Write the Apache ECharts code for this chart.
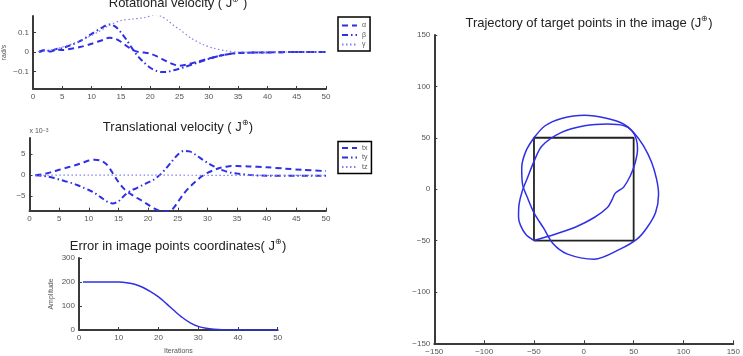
<!DOCTYPE html>
<html>
<head>
<meta charset="utf-8">
<script src="https://cdn.jsdelivr.net/npm/echarts@6/dist/echarts.min.js"></script>
<style>
  html, body { margin: 0; padding: 0; background: #fff; }
  #main { width: 743px; height: 356px; }
</style>
</head>
<body>
<div id="main"></div>
<script>
// rotational velocity (rad/s) — [iteration, value]
const rotAlpha = [[1,0],[2,0.008],[3,0.002],[4,0.012],[5,0.01],[6,0.014],[8,0.025],[10,0.042],[12,0.062],[13,0.073],[14,0.068],[15,0.052],[16,0.03],[17,0.01],[18,0],[19,-0.003],[20,-0.008],[21,-0.02],[22,-0.035],[23,-0.05],[24,-0.063],[25,-0.07],[26,-0.065],[28,-0.05],[30,-0.033],[32,-0.018],[34,-0.008],[36,-0.004],[40,-0.002],[45,0],[50,0]]
const rotBeta = [[1,0],[2,0.01],[3,0.005],[4,0.015],[5,0.02],[6,0.03],[8,0.055],[10,0.092],[12,0.128],[13,0.14],[14,0.13],[15,0.1],[16,0.06],[17,0.015],[18,-0.025],[19,-0.055],[20,-0.08],[21,-0.095],[22,-0.102],[23,-0.1],[24,-0.093],[25,-0.085],[26,-0.075],[28,-0.055],[30,-0.035],[32,-0.018],[34,-0.008],[36,-0.004],[40,-0.002],[45,0],[50,0]]
const rotGamma = [[1,0],[3,0.01],[5,0.025],[7,0.045],[9,0.07],[11,0.1],[13,0.135],[15,0.16],[17,0.167],[19,0.175],[21,0.19],[22,0.18],[23,0.16],[24,0.135],[25,0.115],[27,0.07],[29,0.038],[31,0.018],[33,0.006],[35,0],[40,0],[50,0]]

// translational velocity (x 10^-3 m/s)
const transX = [[1,0],[2,0.2],[3,0.5],[4,0.9],[5,1.3],[6,1.7],[7,2.1],[8,2.5],[9,3],[10,3.5],[11,3.7],[12,3.5],[13,2.6],[14,0.6],[15,-1.6],[16,-3.3],[17,-4.4],[18,-5.3],[19,-6.1],[20,-7],[21,-7.9],[22,-8.5],[23,-8.6],[24,-8.2],[25,-6.4],[26,-4.4],[27,-2.8],[28,-1.5],[29,-0.3],[30,0.6],[31,1.2],[32,1.7],[33,2],[34,2.2],[35,2.2],[37,2.1],[40,1.9],[43,1.6],[46,1.3],[50,1.0]]
const transY = [[1,0],[2,-0.1],[3,-0.3],[4,-0.6],[5,-1.0],[6,-1.4],[7,-1.8],[8,-2.3],[9,-2.9],[10,-3.5],[11,-4.2],[12,-5.2],[13,-6.2],[14,-6.7],[15,-6.2],[16,-4.8],[17,-3.7],[18,-3.1],[19,-2.4],[20,-1.7],[21,-1.0],[22,0.1],[23,1.6],[24,3.3],[25,4.9],[26,5.8],[27,5.7],[28,4.9],[29,3.9],[30,3],[31,2.2],[32,1.5],[33,1],[34,0.6],[35,0.4],[37,0.1],[40,-0.1],[45,-0.1],[50,-0.1]]
const transZ = [[1,0],[10,0.05],[20,0.05],[30,0],[50,0]]

// error amplitude
const errorAmp = [[1,200],[5,200],[10,199.5],[12,197],[14,191],[16,178],[18,160],[20,138],[22,110],[24,80],[26,52],[28,30],[30,15],[32,7],[34,3],[36,1],[40,0.3],[45,0],[50,0]]

// image trajectory (pixels)
const trajOuter = [[-50,50],[-38.8,61.7],[-22.4,68.8],[0.7,72],[23.7,68.8],[40.1,63.3],[50,55.2],[59.9,42.2],[68.1,26],[73,9.7],[75,-4.9],[72,-22.7],[63.5,-37.3],[53.3,-48.7],[36.4,-58.4],[10.4,-68.2],[-17,-63],[-31,-53],[-40.3,-38],[-50,-23],[-56.5,-8.4],[-61.4,4.5],[-62.3,20.8],[-58.1,37],[-50,50]]
const trajInner = [[-50,-50],[-28.9,-43.8],[-9.2,-37.3],[10.5,-27.6],[23.7,-17.9],[28.5,-10],[30.5,-5.5],[32,-3.5],[35,-1.5],[40,2],[46.7,13],[51.6,26],[53.9,39],[52.6,48.7],[48,57],[40,62],[23.7,63.5],[0.7,61.7],[-22.4,55.2],[-42,42],[-50,27],[-56.5,11],[-61.8,-2],[-65,-15],[-65.5,-27],[-63.6,-35],[-58.1,-44.2],[-50,-50]]
const targetSquare = [[-50,-50],[50,-50],[50,50],[-50,50],[-50,-50]]

const blue = '#2f2fe6'
const lightBlue = '#8080f0'
const axisColor = '#3a3a3a'
const labelColor = '#555'
const font = 'Liberation Sans'

const chart = echarts.init(document.getElementById('main'))

const minus = v => String(v).replace('-', '\u2212')

// axis helper, matlab-ish look
const axis = (gridIndex, min, max, extra) => Object.assign({
  type: 'value',
  gridIndex,
  min,
  max,
  splitLine: { show: false },
  axisLine: { show: true, onZero: false, lineStyle: { color: axisColor, width: 2 } },
  axisTick: { show: true, inside: true, length: 3, lineStyle: { color: axisColor, width: 1 } },
  axisLabel: { color: labelColor, fontSize: 8, fontFamily: font, margin: 4, formatter: minus },
  nameTextStyle: { color: labelColor, fontSize: 7, fontFamily: font }
}, extra)

const line = (name, data, xi, lineType, width, color, smooth) => ({
  name,
  type: 'line',
  xAxisIndex: xi,
  yAxisIndex: xi,
  data,
  smooth: smooth === undefined ? 0.3 : smooth,
  symbol: 'none',
  animation: false,
  lineStyle: { color: color || blue, width, type: lineType },
  itemStyle: { color: color || blue }
})

const titleText = (x, y, text) => ({
  type: 'text',
  x,
  y,
  style: {
    text,
    fill: '#222',
    fontSize: 13,
    fontFamily: font,
    align: 'center',
    verticalAlign: 'middle',
    lineHeight: 16,
    rich: { s: { fontSize: 8, lineHeight: 8, verticalAlign: 'top', fill: '#222' } }
  }
})

const legendBase = {
  orient: 'vertical',
  selectedMode: false,
  borderColor: '#000',
  borderWidth: 1.5,
  backgroundColor: '#fff',
  borderRadius: 0,
  itemWidth: 15,
  itemHeight: 8,
  itemGap: 2.5,
  itemStyle: { opacity: 0 },
  textStyle: { fontSize: 7, color: labelColor, fontFamily: font }
}

const rotTicks = [-0.1, 0, 0.1]
const transTicks = [-5, 0, 5]

chart.setOption({
  animation: false,
  grid: [
    { left: 29.5, top: 16, width: 296.5, height: 73 },
    { left: 29.5, top: 138, width: 296.5, height: 72.7 },
    { left: 79, top: 258, width: 198.7, height: 73.7 },
    { left: 434.3, top: 35, width: 306.7, height: 308.3 }
  ],
  xAxis: [
    axis(0, 0, 50, { interval: 5 }),
    axis(1, 0, 50, { interval: 5 }),
    axis(2, 0, 50, { interval: 10, name: 'Iterations', nameLocation: 'middle', nameGap: 18 }),
    axis(3, -150, 150, { interval: 50 })
  ],
  yAxis: [
    axis(0, -0.188, 0.183, {
      name: 'rad/s', nameLocation: 'middle', nameGap: 25,
      axisTick: { show: true, inside: true, length: 3, customValues: rotTicks, lineStyle: { color: axisColor } },
      axisLabel: { color: labelColor, fontSize: 8, fontFamily: font, margin: 4, customValues: rotTicks, formatter: minus }
    }),
    axis(1, -8.43, 8.88, {
      name: 'x 10{s|\u22123}', nameLocation: 'end', nameGap: 3,
      nameTextStyle: { color: labelColor, fontSize: 7, fontFamily: font, align: 'left',
        rich: { s: { fontSize: 5, verticalAlign: 'top', lineHeight: 5, color: labelColor } } },
      axisTick: { show: true, inside: true, length: 3, customValues: transTicks, lineStyle: { color: axisColor } },
      axisLabel: { color: labelColor, fontSize: 8, fontFamily: font, margin: 4, customValues: transTicks, formatter: minus }
    }),
    axis(2, 0, 300, { interval: 100, name: 'Amplitude', nameLocation: 'middle', nameGap: 24 }),
    axis(3, -150, 150, { interval: 50 })
  ],
  legend: [
    Object.assign({}, legendBase, { data: ['\u03b1', '\u03b2', '\u03b3'], left: 338, top: 17, padding: [5, 4, 3, 3] }),
    Object.assign({}, legendBase, { data: ['tx', 'ty', 'tz'], left: 338, top: 141.5, padding: [3, 4, 3, 3] })
  ],
  graphic: [
    titleText(178, 3.5, 'Rotational velocity ( J{s|\u2295} )'),
    titleText(178, 127, 'Translational velocity ( J{s|\u2295})'),
    titleText(178, 246, 'Error in image points coordinates( J{s|\u2295})'),
    titleText(589, 23, 'Trajectory of target points in the image (J{s|\u2295})')
  ],
  series: [
    line('\u03b1', rotAlpha, 0, [6, 4], 2),
    line('\u03b2', rotBeta, 0, [6, 3, 1.5, 3], 2),
    line('\u03b3', rotGamma, 0, [1.5, 2.5], 1.2, lightBlue),
    line('tx', transX, 1, [6, 4], 2),
    line('ty', transY, 1, [6, 3, 1.5, 3], 2),
    line('tz', transZ, 1, [1.5, 2.5], 1.2, lightBlue),
    line('error', errorAmp, 2, 'solid', 1.5),
    line('square', targetSquare, 3, 'solid', 1.8, '#222', false),
    line('outer', trajOuter, 3, 'solid', 1.5),
    line('inner', trajInner, 3, 'solid', 1.5)
  ]
})
</script>
</body>
</html>
